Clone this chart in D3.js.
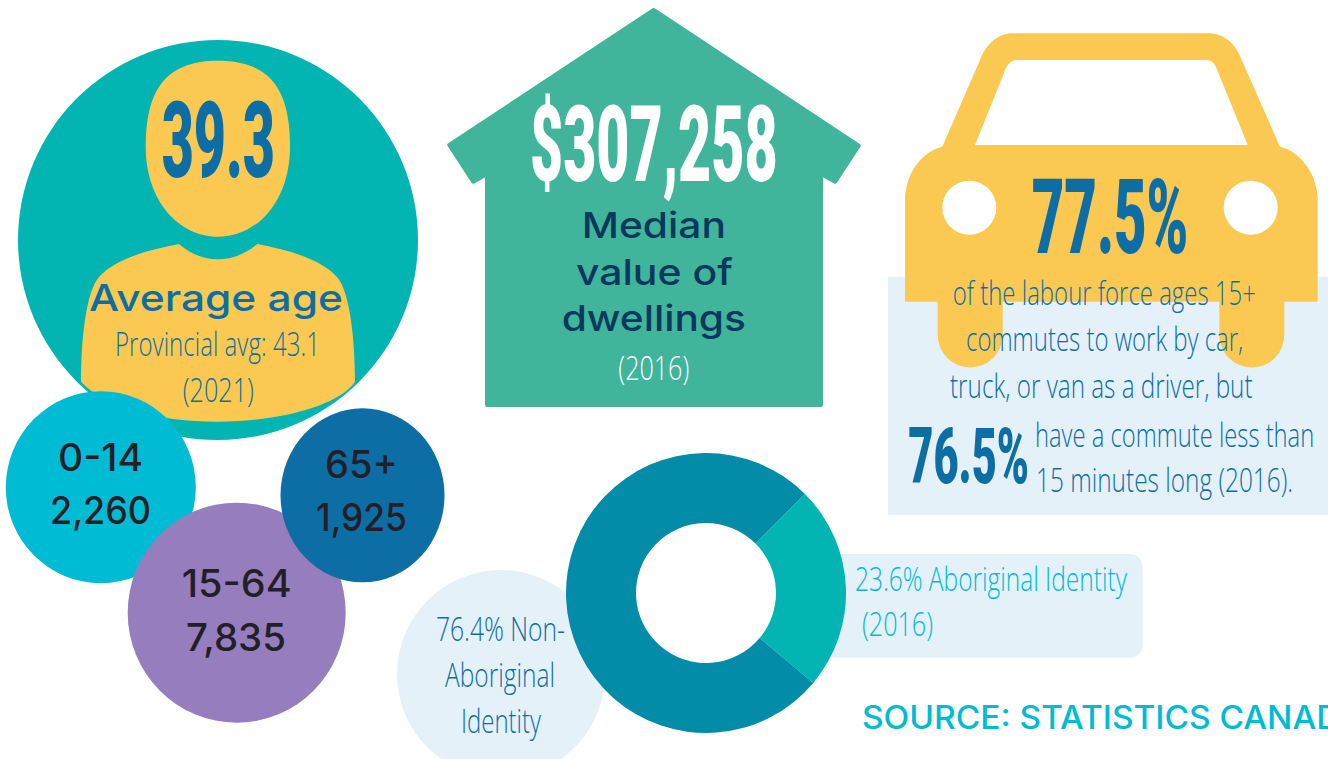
<!DOCTYPE html>
<html>
<head>
<meta charset="utf-8">
<script src="https://cdn.jsdelivr.net/npm/d3@7"></script>
<style>
  html, body { margin: 0; padding: 0; background: #fff; overflow: hidden; }
  svg { display: block; }
</style>
</head>
<body>
<div id="diagram"></div>
<script>
//data
const averageAge = 39.3
const provincialAge = 43.1
const dwellingValue = 307258
const driveShare = 77.5
const shortCommuteShare = 76.5

const ageGroups = ["0-14", "15-64", "65+"]
const ageCounts = [2260, 7835, 1925]

const identityGroups = ["Aboriginal Identity", "Non-Aboriginal Identity"]
const identityShares = [23.6, 76.4]

//colours
const teal = "#02b5b3", yellow = "#fbc951", blue = "#0d6ea5", paleBlue = "#e4f1f9"
const cyan = "#00bbd4", green = "#40b59c", navy = "#07395c", ink = "#231f28"

//fonts
const heavy = "Roboto,'Open Sans',sans-serif"
const round = "Inter,'Noto Sans',sans-serif"
const thin = "'Open Sans',sans-serif"

const svg = d3.select("#diagram").append("svg")
  .attr("width", 1328)
  .attr("height", 759)

//no condensed fonts here, so every label is measured and squeezed
//into the width it has in the picture
const label = (str, x0, x1, baseline, size, family, weight, fill) => {
  const t = svg.append("text")
    .attr("font-size", size)
    .attr("font-family", family)
    .attr("font-weight", weight)
    .attr("fill", fill)
    .text(str)
  const k = (x1 - x0) / t.node().getComputedTextLength()
  t.attr("transform", `translate(${x0},${baseline}) scale(${k},1)`)
  return t
}

const numberLabel = (str, x0, x1, baseline, size, fill) => label(str, x0, x1, baseline, size, heavy, 900, fill)
const thinLabel = (str, x0, x1, baseline, fill) => label(str, x0, x1, baseline, 33, thin, 300, fill)

//****************************************************************************
//Person

svg.append("circle").attr("cx", 218).attr("cy", 240).attr("r", 200).attr("fill", teal)

svg.append("path").attr("fill", yellow)
  .attr("d", "M218,60.7 C272,60.7 290,92 290,146.7 C290,200 258,236.7 218,236.7 C178,236.7 145.7,200 145.7,146.7 C145.7,92 164,60.7 218,60.7 Z")

svg.append("path").attr("fill", yellow)
  .attr("d", "M179,244 C190,254 204,259.3 218,259.3 C232,259.3 246,254 257.3,244 C290,250 322,260 337,277 C350,292 355,340 355,381.7 C340,405 280,421.7 217,421.7 C160,421.7 105,408 81,381.7 C81,340 86,292 99,277 C114,260 146,250 179,244 Z")

numberLabel(d3.format(".1f")(averageAge), 161.7, 275, 177, 105, blue)
label("Average age", 89, 343, 311, 37, round, 500, blue)
thinLabel(`Provincial avg: ${provincialAge}`, 115, 320, 356, blue)
thinLabel("(2021)", 182.7, 254, 401.7, blue)

//****************************************************************************
//Age groups

const ageX = d3.scaleOrdinal().domain(ageGroups).range([100.8, 236.7, 362.5])
const ageY = d3.scaleOrdinal().domain(ageGroups).range([487.2, 612.7, 495.3])
const ageRx = d3.scaleOrdinal().domain(ageGroups).range([95, 109, 82])
const ageRy = d3.scaleOrdinal().domain(ageGroups).range([96, 110, 87])
const ageColor = d3.scaleOrdinal().domain(ageGroups).range([cyan, "#967dbd", blue])

svg.append("g").selectAll("ellipse")
  .data(ageGroups)
  .enter().append("ellipse")
  .attr("cx", d => ageX(d))
  .attr("cy", d => ageY(d))
  .attr("rx", d => ageRx(d))
  .attr("ry", d => ageRy(d))
  .attr("fill", d => ageColor(d))

const ageLabelSpots = [
  [58, 143, 471, 50, 151, 524.3],
  [181.7, 291.7, 596.7, 186, 286, 650.7],
  [325, 398, 477.7, 316, 407, 531]
]
ageGroups.forEach((group, i) => {
  const s = ageLabelSpots[i]
  label(group, s[0], s[1], s[2], 38, round, 500, ink)
  label(d3.format(",")(ageCounts[i]), s[3], s[4], s[5], 38, round, 500, ink)
})

//****************************************************************************
//House

svg.append("path")
  .attr("fill", green)
  .attr("stroke", green)
  .attr("stroke-width", 4)
  .attr("stroke-linejoin", "round")
  .attr("d", "M653.7,10 L858.7,145.7 L835.2,181.7 L821,174 L821,405 L487,405 L487,174 L473.2,181.7 L449.3,145 Z")

numberLabel(d3.format("$,")(dwellingValue), 530, 777.7, 181, 105, "#fff")
label("Median", 581.7, 726, 238.3, 36, round, 500, navy)
label("value of", 576, 732.7, 285, 36, round, 500, navy)
label("dwellings", 561.7, 746, 330.7, 36, round, 500, navy)
thinLabel("(2016)", 618.3, 689.3, 380, "#fff")

//****************************************************************************
//Car

svg.append("rect")
  .attr("x", 888).attr("y", 276.7)
  .attr("width", 440).attr("height", 238.3)
  .attr("fill", paleBlue)

svg.append("path")
  .attr("fill", yellow)
  .attr("fill-rule", "evenodd")
  .attr("d", "M942.3,146.7 L980,60 C986,44 998,33.3 1013,33.3 L1208,33.3 C1224,33.3 1236,44 1241.7,60 L1280,146.7 C1302,152 1317.7,176 1317.7,200 L1317.7,301.7 L1284.3,301.7 L1284.3,335 A32.5,32.5 0 0 1 1219.3,335 L1219.3,301.7 L1002.7,301.7 L1002.7,335 A32.5,32.5 0 0 1 937.7,335 L937.7,301.7 L905,301.7 L905,200 C905,176 920,152 942.3,146.7 Z"
    + " M975,145 L1006,68 Q1010,60 1017,60 L1206.7,60 Q1213,60 1216,67 L1247.7,145 Z"
    + " M942.3,207.7 a27,27 0 1 0 54,0 a27,27 0 1 0 -54,0 Z"
    + " M1223.7,207.7 a27,27 0 1 0 54,0 a27,27 0 1 0 -54,0 Z")

numberLabel(`${driveShare}%`, 1031.7, 1188.3, 253, 104, blue)
thinLabel("of the labour force ages 15+", 952.7, 1256, 305, blue)
thinLabel("commutes to work by car,", 966, 1243.3, 351, blue)
thinLabel("truck, or van as a driver, but", 950, 1252.7, 397.7, blue)
numberLabel(`${shortCommuteShare}%`, 908.3, 1029, 482.7, 78, blue)
thinLabel("have a commute less than", 1035, 1314.3, 446.7, blue)
thinLabel("15 minutes long (2016).", 1036, 1293.3, 492.3, blue)

//****************************************************************************
//Identity donut

svg.append("rect")
  .attr("x", 780).attr("y", 554)
  .attr("width", 362.7).attr("height", 103.7)
  .attr("rx", 13)
  .attr("fill", paleBlue)

svg.append("circle").attr("cx", 501).attr("cy", 674).attr("r", 104).attr("fill", paleBlue)

const donutColor = d3.scaleOrdinal().domain(identityGroups).range([teal, "#038ca8"])
const pie = d3.pie().sort(null).startAngle(Math.PI / 4).endAngle(Math.PI / 4 + 2 * Math.PI)
const arc = d3.arc().innerRadius(70).outerRadius(140)

svg.append("g")
  .attr("transform", "translate(706,593)")
  .selectAll("path")
  .data(pie(identityShares))
  .enter().append("path")
  .attr("d", arc)
  .attr("fill", (d, i) => donutColor(identityGroups[i]))

thinLabel(`${identityShares[1]}% Non-`, 436, 565, 641, blue)
thinLabel("Aboriginal", 445, 555, 687.3, blue)
thinLabel("Identity", 461, 541, 733.3, blue)
thinLabel(`${identityShares[0]}% ${identityGroups[0]}`, 855, 1127, 591, cyan)
thinLabel("(2016)", 862, 933, 636, cyan)

//****************************************************************************
//Source, runs off the page like in the original

label("SOURCE: STATISTICS CANADA", 862, 1363, 728.7, 32, round, 500, cyan)
</script>
</body>
</html>
